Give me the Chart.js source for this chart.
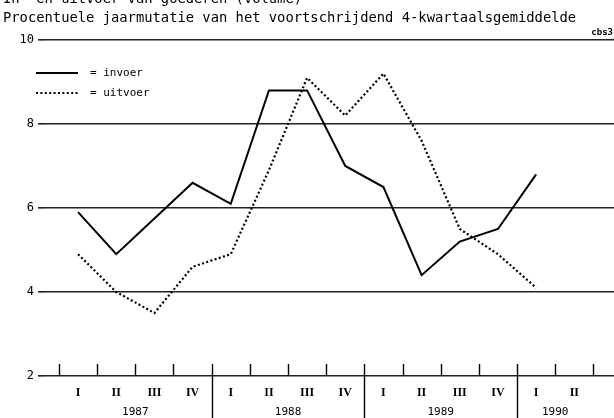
<!DOCTYPE html>
<html>
<head>
<meta charset="utf-8">
<script src="https://cdn.jsdelivr.net/npm/chart.js@4.4.1/dist/chart.umd.min.js"></script>
<style>
  html, body { margin: 0; padding: 0; background: #fff; }
  #wrap { width: 614px; height: 418px; }
</style>
</head>
<body>
<div id="wrap"><canvas id="grafiek"></canvas></div>
<script>
// gegevens
const kwartalen = ['I', 'II', 'III', 'IV', 'I', 'II', 'III', 'IV', 'I', 'II', 'III', 'IV', 'I', 'II'];
const jaren = ['1987', '1988', '1989', '1990'];
const invoer = [5.9, 4.9, 5.75, 6.6, 6.1, 8.8, 8.8, 7.0, 6.5, 4.4, 5.2, 5.5, 6.8];
const uitvoer = [4.9, 4.0, 3.5, 4.6, 4.9, 6.9, 9.1, 8.2, 9.2, 7.6, 5.5, 4.9, 4.1];
const yWaarden = [2, 4, 6, 8, 10];

const titel1 = 'In- en uitvoer van goederen (volume)';
const titel2 = 'Procentuele jaarmutatie van het voortschrijdend 4-kwartaalsgemiddelde';

// midden van elk jaar op de kwartaal-as
function jaarMidden(k) {
    const idx = kwartalen.map((q, i) => i).filter(i => Math.floor(i / 4) === k);
    return idx.reduce((a, b) => a + b, 0) / idx.length;
}

const mono = 'DejaVu Sans Mono';

// tekst, legenda en kwartaalstreepjes
const extraPlugin = {
    id: 'extra',
    afterDraw(chart) {
        const ctx = chart.ctx;
        const xs = chart.scales.x;
        const bodem = chart.chartArea.bottom;
        ctx.save();
        ctx.fillStyle = '#000';
        ctx.textBaseline = 'alphabetic';
        ctx.font = '13.8px ' + mono;
        ctx.fillText(titel1, 3, 3);
        ctx.fillText(titel2, 3, 22);
        ctx.font = 'bold 9px ' + mono;
        ctx.textAlign = 'right';
        ctx.fillText('cbs3', 613, 35);

        // kwartaalgrenzen
        ctx.strokeStyle = '#000';
        ctx.lineWidth = 1.4;
        for (let i = 0; i <= kwartalen.length; i++) {
            const px = Math.round(xs.getPixelForValue(i - 0.5)) + 0.5;
            const jaargrens = i > 0 && i % 4 === 0;
            ctx.beginPath();
            ctx.moveTo(px, bodem - 12);
            ctx.lineTo(px, jaargrens ? chart.height : bodem);
            ctx.stroke();
        }

        // legenda
        const sets = chart.data.datasets;
        const rijen = [73, 93];
        ctx.textAlign = 'left';
        ctx.textBaseline = 'middle';
        ctx.font = '11px ' + mono;
        sets.forEach((ds, k) => {
            ctx.strokeStyle = ds.borderColor;
            ctx.lineWidth = ds.borderWidth;
            ctx.setLineDash(ds.borderDash || []);
            ctx.beginPath();
            ctx.moveTo(36, rijen[k]);
            ctx.lineTo(78, rijen[k]);
            ctx.stroke();
            ctx.setLineDash([]);
            ctx.fillText('= ' + ds.label, 90, rijen[k]);
        });
        ctx.restore();
    }
};

new Chart(document.getElementById('grafiek'), {
    type: 'line',
    data: {
        datasets: [
            {
                label: 'invoer',
                data: invoer.map((v, i) => ({ x: i, y: v })),
                borderColor: '#000',
                borderWidth: 2,
                pointRadius: 0,
                tension: 0
            },
            {
                label: 'uitvoer',
                data: uitvoer.map((v, i) => ({ x: i, y: v })),
                borderColor: '#000',
                borderWidth: 2.2,
                borderDash: [2, 2.4],
                pointRadius: 0,
                tension: 0
            }
        ]
    },
    options: {
        responsive: true,
        maintainAspectRatio: false,
        animation: false,
        layout: { padding: { top: 40, right: 0, bottom: 0, left: 0 } },
        plugins: {
            legend: { display: false },
            tooltip: { enabled: false }
        },
        scales: {
            x: {
                type: 'linear',
                min: -0.84,
                max: 14.04,
                grid: { display: false, drawTicks: false },
                border: { display: false },
                afterBuildTicks(scale) {
                    const t = kwartalen.map((q, i) => ({ value: i }));
                    jaren.forEach((j, k) => t.push({ value: jaarMidden(k) }));
                    scale.ticks = t;
                },
                afterFit(scale) { scale.height = 42; },
                ticks: {
                    autoSkip: false,
                    maxRotation: 0,
                    padding: 7.5,
                    color: '#000',
                    callback(v) {
                        if (Number.isInteger(v)) return kwartalen[v];
                        const k = jaren.findIndex((j, n) => jaarMidden(n) === v);
                        return ['', jaren[k]];
                    },
                    font(c) {
                        const v = c.tick ? c.tick.value : 0;
                        if (Number.isInteger(v)) {
                            return { family: 'Liberation Serif', size: 12, weight: 'bold', lineHeight: '19px' };
                        }
                        return { family: mono, size: 11, lineHeight: '19px' };
                    }
                }
            },
            y: {
                min: 2,
                max: 10,
                afterBuildTicks(scale) { scale.ticks = yWaarden.map(v => ({ value: v })); },
                afterFit(scale) { scale.width = 46; },
                grid: { color: '#222', lineWidth: 1.6, tickLength: 8 },
                border: { display: false },
                ticks: { padding: 4, color: '#000', font: { family: mono, size: 12 } }
            }
        }
    },
    plugins: [extraPlugin]
});
</script>
</body>
</html>
